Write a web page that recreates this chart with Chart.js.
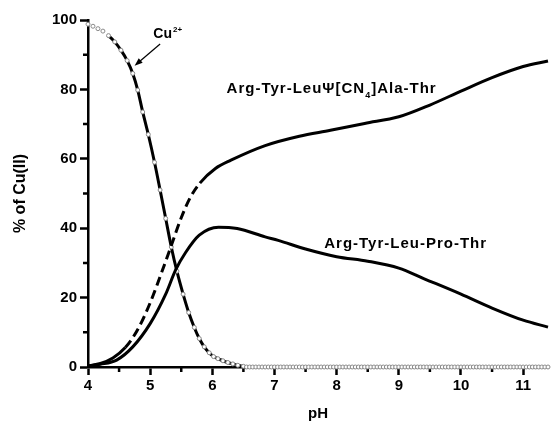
<!DOCTYPE html>
<html lang="en">
<head>
<meta charset="UTF-8">
<title>Cu(II) speciation vs pH</title>
<script src="https://cdn.jsdelivr.net/npm/chart.js@4.4.1/dist/chart.umd.min.js"></script>
<style>
  html, body { margin: 0; padding: 0; background: #fff; }
</style>
</head>
<body>
<canvas id="chart" width="553" height="423"></canvas>
<script>
// axis ticks
const xTicks = [4, 5, 6, 7, 8, 9, 10, 11];
const xMinor = [4.5, 5.5, 6.5, 7.5, 8.5, 9.5, 10.5];
const yTicks = [0, 20, 40, 60, 80, 100];
const yMinor = [10, 30, 50, 70, 90];

// free Cu2+ (open circles on a black line)
const cuPH = [4.0, 4.08, 4.16, 4.24, 4.33, 4.43, 4.53, 4.63, 4.72, 4.8, 4.88, 4.97, 5.07, 5.16, 5.25, 5.34,
  5.43, 5.53, 5.62, 5.71, 5.79, 5.87, 5.95, 6.02, 6.09, 6.17, 6.25, 6.33, 6.41, 6.5];
const cuVal = [98.8, 98.2, 97.5, 96.8, 95.5, 93.7, 91.3, 88.3, 84.6, 79.8, 73.5, 67.0, 59.0, 51.0, 42.8, 34.6,
  27.6, 21.0, 15.7, 11.4, 8.2, 5.8, 4.1, 3.0, 2.4, 1.8, 1.3, 0.9, 0.5, 0.2];
// tail of Cu2+ points sitting on zero
const cuTailPH = [6.55, 6.6, 6.65, 6.7, 6.75, 6.8, 6.85, 6.9, 6.95, 7.0, 7.05, 7.1, 7.15, 7.2, 7.25, 7.3, 7.35,
  7.4, 7.45, 7.5, 7.55, 7.6, 7.65, 7.7, 7.75, 7.8, 7.85, 7.9, 7.95, 8.0, 8.05, 8.1, 8.15, 8.2, 8.25, 8.3, 8.35,
  8.4, 8.45, 8.5, 8.55, 8.6, 8.65, 8.7, 8.75, 8.8, 8.85, 8.9, 8.95, 9.0, 9.05, 9.1, 9.15, 9.2, 9.25, 9.3, 9.35,
  9.4, 9.45, 9.5, 9.55, 9.6, 9.65, 9.7, 9.75, 9.8, 9.85, 9.9, 9.95, 10.0, 10.05, 10.1, 10.15, 10.2, 10.25, 10.3,
  10.35, 10.4, 10.45, 10.5, 10.55, 10.6, 10.65, 10.7, 10.75, 10.8, 10.85, 10.9, 10.95, 11.0, 11.05, 11.1, 11.15,
  11.2, 11.25, 11.3, 11.35, 11.4];

// Arg-Tyr-LeuPsi[CN4]Ala-Thr complex
const psiPH = [4.0, 4.2, 4.4, 4.6, 4.8, 5.0, 5.2, 5.34, 5.5, 5.65, 5.8, 6.05, 6.3, 6.85, 7.4, 7.9, 8.45, 9.0, 9.5, 10.0, 10.5, 11.0, 11.4];
const psiVal = [0.3, 1.0, 2.6, 5.6, 10.8, 18.5, 28.0, 35.0, 43.0, 49.0, 53.0, 57.2, 59.6, 63.8, 66.5, 68.2, 70.2, 72.1, 75.5, 79.5, 83.4, 86.6, 88.2];

// Arg-Tyr-Leu-Pro-Thr complex
const proPH = [4.0, 4.2, 4.46, 4.72, 5.0, 5.25, 5.41, 5.57, 5.79, 6.1, 6.4, 6.85, 7.06, 7.5, 8.0, 8.5, 9.0, 9.4, 10.0, 10.5, 11.0, 11.4];
const proVal = [0.3, 0.8, 2.0, 5.8, 12.5, 21.0, 28.0, 33.0, 38.0, 40.3, 39.9, 37.5, 36.5, 34.0, 31.8, 30.5, 28.5, 25.5, 21.0, 17.0, 13.5, 11.5];

const pts = (xs, ys) => xs.map((x, i) => ({ x: x, y: ys[i] }));
const cuData = pts(cuPH, cuVal).concat(cuTailPH.map(x => ({ x: x, y: 0 })));

const FONT = "'Liberation Sans', Arial, sans-serif";
const CLEAR = 'rgba(0,0,0,0)';

// minor ticks, curve labels and the Cu2+ arrow
const extras = {
  id: 'extras',
  beforeDatasetsDraw(chart) {
    const { ctx, scales: { x, y } } = chart;
    ctx.save();
    ctx.strokeStyle = '#000';
    ctx.lineWidth = 2.5;
    ctx.beginPath();
    xMinor.forEach(v => {
      const px = x.getPixelForValue(v);
      ctx.moveTo(px, y.bottom); ctx.lineTo(px, y.bottom + 5);
    });
    yMinor.forEach(v => {
      const py = y.getPixelForValue(v);
      ctx.moveTo(x.left, py); ctx.lineTo(x.left - 5, py);
    });
    ctx.stroke();
    ctx.restore();
  },
  afterDatasetsDraw(chart) {
    const { ctx, scales: { x, y } } = chart;
    ctx.save();
    ctx.fillStyle = '#000';
    ctx.textBaseline = 'alphabetic';
    ctx.textAlign = 'left';

    // Cu2+
    let px = x.getPixelForValue(5.05), py = y.getPixelForValue(94.8);
    ctx.font = 'bold 14px ' + FONT;
    ctx.fillText('Cu', px, py);
    px += ctx.measureText('Cu').width + 1;
    ctx.font = 'bold 8px ' + FONT;
    ctx.fillText('2+', px, py - 6);

    // arrow
    const ax0 = x.getPixelForValue(5.16), ay0 = y.getPixelForValue(93.1);
    const ax1 = x.getPixelForValue(4.75), ay1 = y.getPixelForValue(86.8);
    const ang = Math.atan2(ay1 - ay0, ax1 - ax0);
    ctx.strokeStyle = '#000';
    ctx.lineWidth = 1.2;
    ctx.beginPath();
    ctx.moveTo(ax0, ay0);
    ctx.lineTo(ax1 - 5 * Math.cos(ang), ay1 - 5 * Math.sin(ang));
    ctx.stroke();
    ctx.beginPath();
    ctx.moveTo(ax1, ay1);
    ctx.lineTo(ax1 - 8 * Math.cos(ang) + 3 * Math.sin(ang), ay1 - 8 * Math.sin(ang) - 3 * Math.cos(ang));
    ctx.lineTo(ax1 - 8 * Math.cos(ang) - 3 * Math.sin(ang), ay1 - 8 * Math.sin(ang) + 3 * Math.cos(ang));
    ctx.closePath();
    ctx.fill();

    // curve labels are set a little wider than plain Arial
    ctx.letterSpacing = '1px';

    // Arg-Tyr-LeuΨ[CN4]Ala-Thr
    px = x.getPixelForValue(6.23); py = y.getPixelForValue(78.9);
    ctx.font = 'bold 15px ' + FONT;
    ctx.fillText('Arg-Tyr-LeuΨ[CN', px, py);
    px += ctx.measureText('Arg-Tyr-LeuΨ[CN').width;
    ctx.font = 'bold 9px ' + FONT;
    ctx.fillText('4', px, py + 5);
    px += ctx.measureText('4').width;
    ctx.font = 'bold 15px ' + FONT;
    ctx.fillText(']Ala-Thr', px, py);

    // Arg-Tyr-Leu-Pro-Thr
    px = x.getPixelForValue(7.8); py = y.getPixelForValue(34.2);
    ctx.fillText('Arg-Tyr-Leu-Pro-Thr', px, py);
    ctx.restore();
  }
};

const axisCommon = {
  type: 'linear',
  border: { display: true, color: '#000', width: 2.5 },
  grid: { display: true, drawOnChartArea: false, drawTicks: true, tickLength: 8, tickWidth: 2.5, tickColor: '#000' },
  ticks: { color: '#000', font: { family: FONT, size: 15, weight: 'bold' } }
};

new Chart(document.getElementById('chart'), {
  type: 'line',
  data: {
    datasets: [
      {
        label: 'Arg-Tyr-Leu-Pro-Thr',
        data: pts(proPH, proVal),
        borderColor: '#000',
        borderWidth: 3,
        pointRadius: 0,
        cubicInterpolationMode: 'monotone',
        clip: false
      },
      {
        label: 'Arg-Tyr-LeuΨ[CN4]Ala-Thr',
        data: pts(psiPH, psiVal),
        borderColor: '#000',
        borderWidth: 3,
        pointRadius: 0,
        cubicInterpolationMode: 'monotone',
        segment: {
          borderDash: c => (c.p0.parsed.x >= 4.6 && c.p1.parsed.x <= 5.8) ? [9, 5] : undefined
        },
        clip: false
      },
      {
        label: 'Cu2+',
        data: cuData,
        borderColor: '#000',
        borderWidth: 3,
        cubicInterpolationMode: 'monotone',
        pointRadius: 2,
        pointBorderWidth: 1,
        pointBorderColor: '#8a8a8a',
        pointBackgroundColor: '#fff',
        segment: {
          borderColor: c => (c.p0.parsed.x < 4.3 || c.p0.parsed.x >= 6.45) ? CLEAR : '#000'
        },
        clip: false
      }
    ]
  },
  options: {
    responsive: false,
    animation: false,
    devicePixelRatio: 1,
    layout: { padding: { top: 20, right: 0, left: 0, bottom: 0 } },
    plugins: { legend: { display: false }, tooltip: { enabled: false } },
    scales: {
      x: Object.assign({}, axisCommon, {
        min: 4, max: 11.4,
        afterBuildTicks: s => { s.ticks = xTicks.map(v => ({ value: v })); },
        afterFit: s => { s.height = 56; },
        ticks: Object.assign({}, axisCommon.ticks, { padding: 2, maxRotation: 0, autoSkip: false }),
        title: { display: true, text: 'pH', color: '#000', font: { family: FONT, size: 15, weight: 'bold' }, padding: { top: 0, bottom: 0 } }
      }),
      y: Object.assign({}, axisCommon, {
        min: 0, max: 100,
        afterBuildTicks: s => { s.ticks = yTicks.map(v => ({ value: v })); },
        afterFit: s => { s.width = 88; },
        ticks: Object.assign({}, axisCommon.ticks, { padding: 3 }),
        title: { display: true, text: '% of Cu(II)', color: '#000', font: { family: FONT, size: 16, weight: 'bold' }, padding: { top: 11, bottom: 0 } }
      })
    }
  },
  plugins: [extras]
});
</script>
</body>
</html>
